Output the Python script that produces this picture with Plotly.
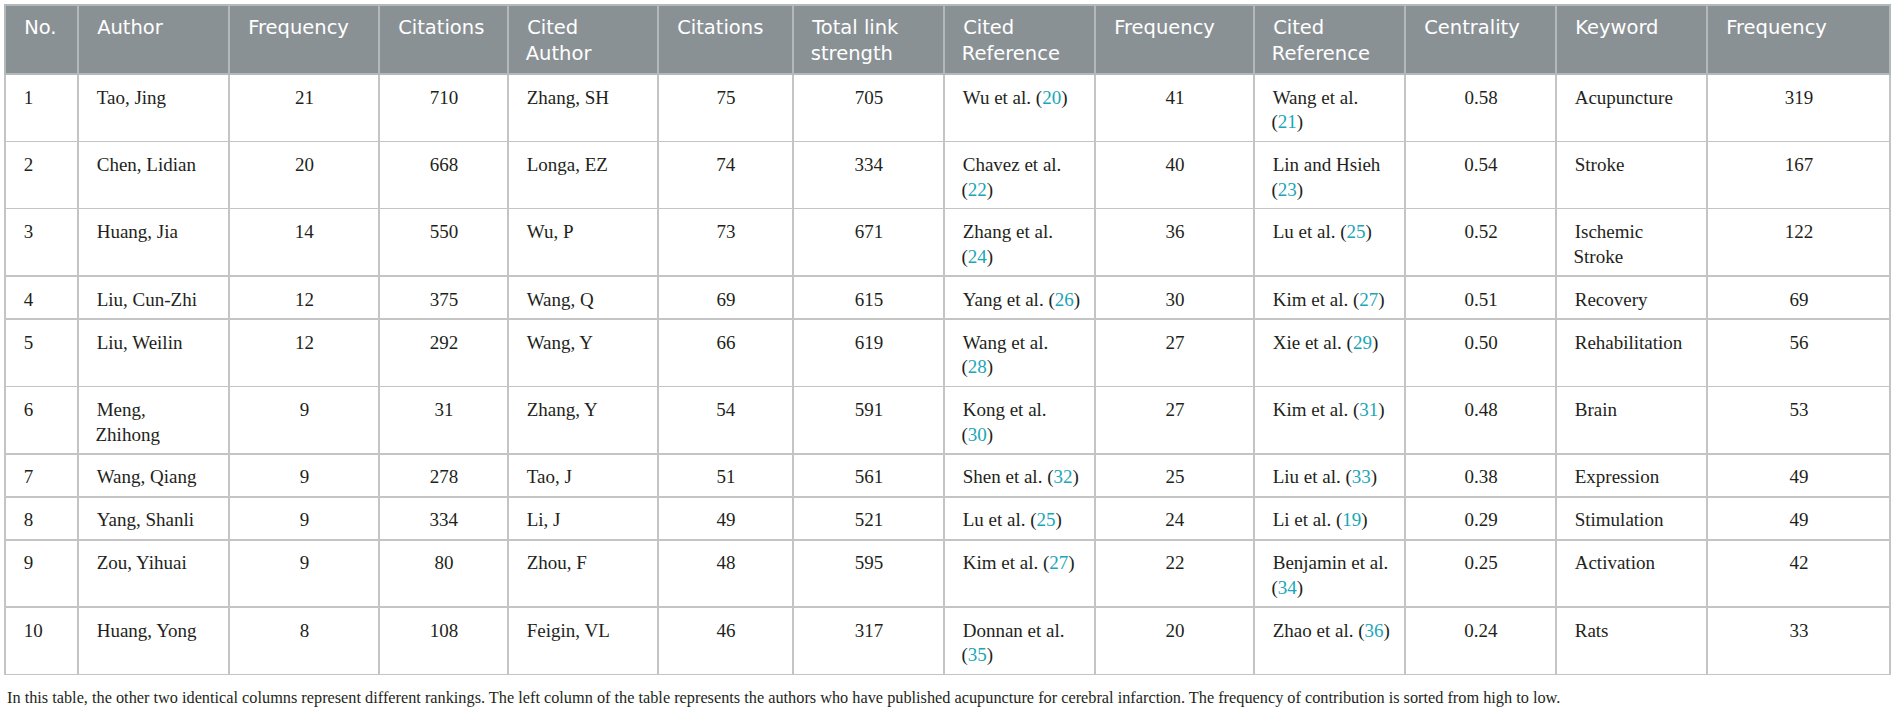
import plotly.graph_objects as go

# ---------------- data ----------------
headers = ["No.", "Author", "Frequency", "Citations", "Cited\nAuthor", "Citations",
           "Total link\nstrength", "Cited\nReference", "Frequency", "Cited\nReference",
           "Centrality", "Keyword", "Frequency"]

rank = [1, 2, 3, 4, 5, 6, 7, 8, 9, 10]
author = ["Tao, Jing", "Chen, Lidian", "Huang, Jia", "Liu, Cun-Zhi", "Liu, Weilin",
          "Meng,\nZhihong", "Wang, Qiang", "Yang, Shanli", "Zou, Yihuai", "Huang, Yong"]
author_freq = [21, 20, 14, 12, 12, 9, 9, 9, 9, 8]
author_cit = [710, 668, 550, 375, 292, 31, 278, 334, 80, 108]
cited_author = ["Zhang, SH", "Longa, EZ", "Wu, P", "Wang, Q", "Wang, Y", "Zhang, Y",
                "Tao, J", "Li, J", "Zhou, F", "Feigin, VL"]
cited_author_cit = [75, 74, 73, 69, 66, 54, 51, 49, 48, 46]
link_strength = [705, 334, 671, 615, 619, 591, 561, 521, 595, 317]
ref1_name = ["Wu et al.", "Chavez et al.", "Zhang et al.", "Yang et al.", "Wang et al.",
             "Kong et al.", "Shen et al.", "Lu et al.", "Kim et al.", "Donnan et al."]
ref1_cite = [20, 22, 24, 26, 28, 30, 32, 25, 27, 35]
ref1_wrap = [False, True, True, False, True, True, False, False, False, True]
ref1_freq = [41, 40, 36, 30, 27, 27, 25, 24, 22, 20]
ref2_name = ["Wang et al.", "Lin and Hsieh", "Lu et al.", "Kim et al.", "Xie et al.",
             "Kim et al.", "Liu et al.", "Li et al.", "Benjamin et al.", "Zhao et al."]
ref2_cite = [21, 23, 25, 27, 29, 31, 33, 19, 34, 36]
ref2_wrap = [True, True, False, False, False, False, False, False, True, False]
centrality = [0.58, 0.54, 0.52, 0.51, 0.50, 0.48, 0.38, 0.29, 0.25, 0.24]
keyword = ["Acupuncture", "Stroke", "Ischemic\nStroke", "Recovery", "Rehabilitation",
           "Brain", "Expression", "Stimulation", "Activation", "Rats"]
keyword_freq = [319, 167, 122, 69, 56, 53, 49, 49, 42, 33]

caption = ("In this table, the other two identical columns represent different rankings. "
           "The left column of the table represents the authors who have published acupuncture "
           "for cerebral infarction. The frequency of contribution is sorted from high to low.")

# ---------------- styling ----------------
HEADER_BG = "#8a9195"
TEXT = "#231f20"
LINK = "#1aa6b8"
PAD = "\u2002"
col_widths = [73, 151, 150, 129, 150, 135, 151, 151, 159, 151, 151, 151, 183]
left_cols = {0, 1, 4, 7, 9, 11}
# invisible raised spacer: sets the top padding of the first text line
BODY_SPACER = '<span style="font-size:20.6px"><sup>\u200a</sup></span>'
HEAD_SPACER = '<span style="font-size:20px"><sup>\u200a</sup></span>'


def cell(s, left, spacer):
    parts = [(PAD if left else "") + p for p in str(s).split("\n")]
    parts[0] = spacer + parts[0]
    txt = "<br>".join(parts)
    # an explicit line break keeps plotly from re-wrapping the markup
    return txt if len(parts) > 1 else txt + "<br>"


def ref_text(name, num, wrap):
    return name + ("\n" if wrap else " ") + "(" + '<span style="color:%s">%d</span>' % (LINK, num) + ")"


ref1 = [ref_text(n, c, w) for n, c, w in zip(ref1_name, ref1_cite, ref1_wrap)]
ref2 = [ref_text(n, c, w) for n, c, w in zip(ref2_name, ref2_cite, ref2_wrap)]

raw_columns = [
    rank, author, author_freq, author_cit, cited_author, cited_author_cit,
    link_strength, ref1, ref1_freq, ref2, ["%.2f" % v for v in centrality],
    keyword, keyword_freq,
]
columns = [[cell(v, i in left_cols, BODY_SPACER) for v in col] for i, col in enumerate(raw_columns)]
aligns = ["left" if i in left_cols else "center" for i in range(len(columns))]

fig = go.Figure(go.Table(
    domain=dict(x=[5 / 1900, 1890 / 1900], y=[0, 1 - 5 / 711]),
    columnwidth=col_widths,
    header=dict(
        values=[cell(h, True, HEAD_SPACER) for h in headers],
        align="left",
        fill_color=HEADER_BG,
        line=dict(color="#b3b8bb", width=1.5),
        font=dict(family="DejaVu Sans", size=19.5, color="white"),
        height=69,
    ),
    cells=dict(
        values=columns,
        align=aligns,
        fill_color="white",
        line=dict(color="#c4c4c4", width=1.5),
        font=dict(family="Liberation Serif", size=19, color=TEXT),
        height=43,
    ),
))

fig.add_annotation(
    text=caption, xref="paper", yref="paper", x=5 / 1900, y=(711 - 697) / 711,
    xanchor="left", yanchor="middle", showarrow=False,
    font=dict(family="Liberation Serif", size=16.3, color=TEXT),
)

fig.update_layout(
    width=1900, height=711, autosize=False,
    margin=dict(l=0, r=0, t=0, b=0),
    paper_bgcolor="white",
)

fig.write_html("out.html", config={"displayModeBar": False},
               post_script="document.body.style.margin='0';")
